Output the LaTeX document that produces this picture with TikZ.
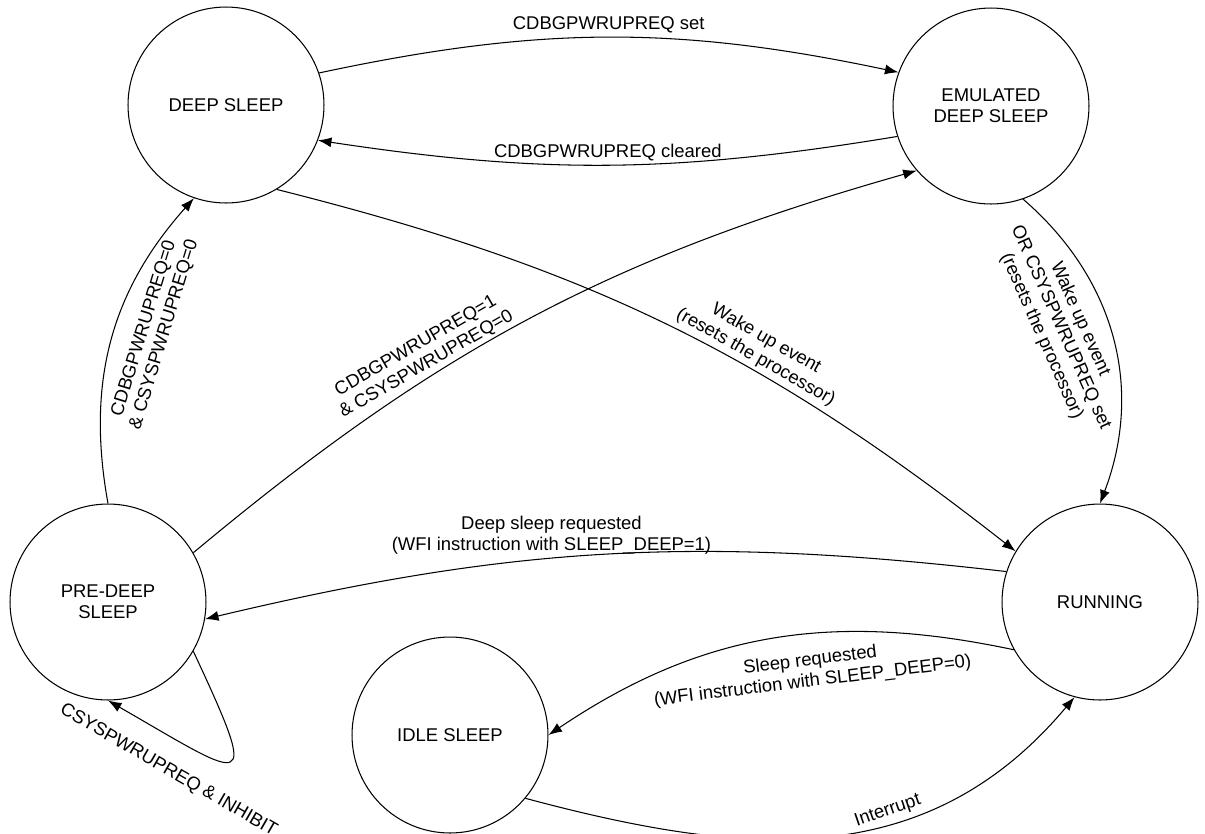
\documentclass[tikz,border=0pt]{standalone}
\usepackage{fontspec}
\setmainfont{Liberation Sans}
\usetikzlibrary{arrows.meta}

\tikzset{
  state/.style={circle, draw, line width=0.6pt, minimum size=3.92cm, inner sep=0pt, align=center, font=\fontsize{10.5}{12}\selectfont},
  trans/.style={line width=0.6pt, -{Latex[length=2.7mm,width=2mm]}},
  lbl/.style={font=\fontsize{10.5}{12}\selectfont, align=center, inner sep=2pt}
}

\begin{document}
\begin{tikzpicture}[x=0.02cm, y=-0.02cm]
  \useasboundingbox (0,0) rectangle (1205,833);
  \node[state] (deep) at (226,105) {DEEP SLEEP};
  \node[state] (emu) at (991,106) {EMULATED\\DEEP SLEEP};
  \node[state] (pre) at (108,602) {PRE-DEEP\\SLEEP};
  \node[state] (run) at (1100,602) {RUNNING};
  \node[state] (idle) at (450,735) {IDLE SLEEP};
  %
  \draw[trans] (deep.19) to[bend left=12] node[lbl, midway, above] (lset) {CDBGPWRUPREQ set} (emu.160);
  \draw[trans] (emu.198) to[bend left=9] node[lbl, midway, above] (lclr) {CDBGPWRUPREQ cleared} (deep.339);
  \draw[trans] (deep.-59) to[bend left=12] node[lbl, pos=0.62, sloped, above] (lwake) {Wake up event\\(resets the processor)} (run.149);
  \draw[trans] (emu.-71) to[bend left=35] node[lbl, pos=0.42, xshift=-0.27cm, rotate=-66, anchor=north] (lwakeor) {Wake up event\\OR CSYSPWRUPREQ set\\(resets the processor)} (run.90);
  \draw[trans] (pre.30.5) to[bend left=12] node[lbl, pos=0.35, rotate=30, anchor=south] (lone) {CDBGPWRUPREQ=1\\\& CSYSPWRUPREQ=0} (emu.221);
  \draw[trans] (pre.90) to[bend left=26] node[lbl, pos=0.55, xshift=0.32cm, rotate=73, anchor=north] (lzero) {CDBGPWRUPREQ=0\\\& CSYSPWRUPREQ=0} (deep.251.6);
  %
  \draw[trans] (run.162) to[bend right=10] node[lbl, pos=0.57, above] (ldeep) {Deep sleep requested\\(WFI instruction with SLEEP\_DEEP=1)} (pre.-10);
  \draw[trans] (run.209.5) to[out=168, in=34] node[lbl, pos=0.42, rotate=7, anchor=north, inner sep=10pt] (lsleep) {Sleep requested\\(WFI instruction with SLEEP\_DEEP=0)} (idle.0);
  \draw[trans] (idle.-40) to[out=-15, in=230, looseness=1.05] node[lbl, pos=0.62, rotate=19, anchor=south] (lint) {Interrupt} (run.255);
  \draw[trans] (pre.-30) to[out=-65, in=-30, looseness=4.2] node[lbl, pos=0.8, yshift=-0.3cm, rotate=-30, anchor=north, inner sep=5pt] (linh) {CSYSPWRUPREQ \& INHIBIT} (pre.-90);
\end{tikzpicture}
\end{document}
